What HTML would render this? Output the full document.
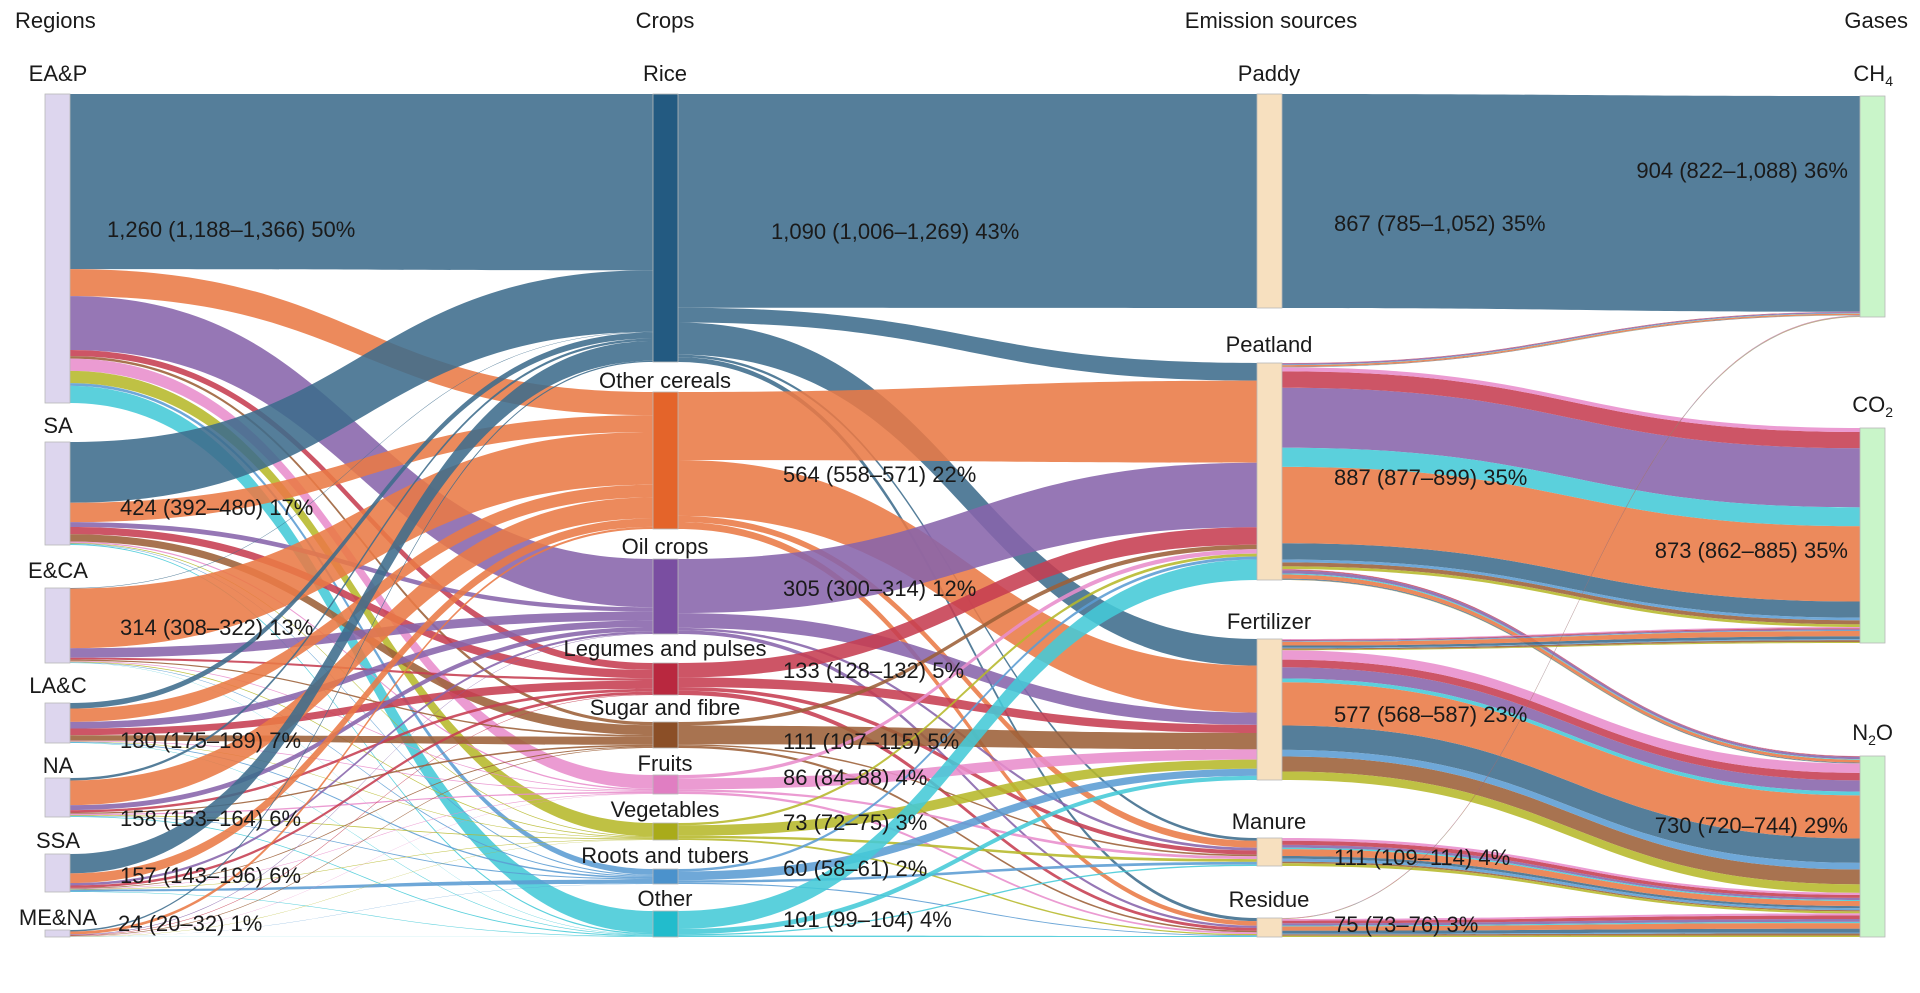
<!DOCTYPE html>
<html><head><meta charset="utf-8">
<style>
html,body{margin:0;padding:0;background:#fff;}
svg{display:block;}
text{font-family:"Liberation Sans",Arial,sans-serif;font-size:22px;fill:#1a1a1a;}
</style></head>
<body>
<svg id="s" width="1920" height="993" viewBox="0 0 1920 993" xmlns="http://www.w3.org/2000/svg">
<g id="links"></g>
<g id="nodes"></g>
<g id="labels">
<text x="15" y="28">Regions</text>
<text x="665" y="28" text-anchor="middle">Crops</text>
<text x="1271" y="28" text-anchor="middle">Emission sources</text>
<text x="1908" y="28" text-anchor="end">Gases</text>

<text x="58" y="81" text-anchor="middle">EA&amp;P</text>
<text x="58" y="433" text-anchor="middle">SA</text>
<text x="58" y="578" text-anchor="middle">E&amp;CA</text>
<text x="58" y="693" text-anchor="middle">LA&amp;C</text>
<text x="58" y="773" text-anchor="middle">NA</text>
<text x="58" y="848" text-anchor="middle">SSA</text>
<text x="58" y="925" text-anchor="middle">ME&amp;NA</text>

<text x="665" y="81" text-anchor="middle">Rice</text>
<text x="665" y="388" text-anchor="middle">Other cereals</text>
<text x="665" y="554" text-anchor="middle">Oil crops</text>
<text x="665" y="656" text-anchor="middle">Legumes and pulses</text>
<text x="665" y="715" text-anchor="middle">Sugar and fibre</text>
<text x="665" y="771" text-anchor="middle">Fruits</text>
<text x="665" y="817" text-anchor="middle">Vegetables</text>
<text x="665" y="863" text-anchor="middle">Roots and tubers</text>
<text x="665" y="906" text-anchor="middle">Other</text>

<text x="1269" y="81" text-anchor="middle">Paddy</text>
<text x="1269" y="352" text-anchor="middle">Peatland</text>
<text x="1269" y="629" text-anchor="middle">Fertilizer</text>
<text x="1269" y="829" text-anchor="middle">Manure</text>
<text x="1269" y="907" text-anchor="middle">Residue</text>

<text x="1893" y="81" text-anchor="end">CH<tspan font-size="14" dy="5">4</tspan></text>
<text x="1893" y="412" text-anchor="end">CO<tspan font-size="14" dy="5">2</tspan></text>
<text x="1893" y="740" text-anchor="end">N<tspan font-size="14" dy="5">2</tspan><tspan dy="-5">O</tspan></text>

<text x="107" y="237">1,260 (1,188–1,366) 50%</text>
<text x="120" y="515">424 (392–480) 17%</text>
<text x="120" y="635">314 (308–322) 13%</text>
<text x="120" y="748">180 (175–189) 7%</text>
<text x="120" y="826">158 (153–164) 6%</text>
<text x="120" y="883">157 (143–196) 6%</text>
<text x="118" y="931">24 (20–32) 1%</text>

<text x="771" y="239">1,090 (1,006–1,269) 43%</text>
<text x="783" y="482">564 (558–571) 22%</text>
<text x="783" y="596">305 (300–314) 12%</text>
<text x="783" y="678">133 (128–132) 5%</text>
<text x="783" y="749">111 (107–115) 5%</text>
<text x="783" y="785">86 (84–88) 4%</text>
<text x="783" y="830">73 (72–75) 3%</text>
<text x="783" y="876">60 (58–61) 2%</text>
<text x="783" y="927">101 (99–104) 4%</text>

<text x="1334" y="231">867 (785–1,052) 35%</text>
<text x="1334" y="485">887 (877–899) 35%</text>
<text x="1334" y="722">577 (568–587) 23%</text>
<text x="1334" y="865">111 (109–114) 4%</text>
<text x="1334" y="932">75 (73–76) 3%</text>

<text x="1848" y="178" text-anchor="end">904 (822–1,088) 36%</text>
<text x="1848" y="558" text-anchor="end">873 (862–885) 35%</text>
<text x="1848" y="833" text-anchor="end">730 (720–744) 29%</text>
</g>
</svg>
<script>
const LC=['#3e6c8c','#e97a45','#8864ab','#c63e51','#9c6038','#e88dcc','#b6b82a','#5b9cd3','#44cad7'];
const NC=['#235a81','#e4642a','#7a4ea1','#b9283f','#8b4f27','#e07ec2','#a9ab1a','#4b92cc','#22bccc'];
const R=[[94,403],[442,545],[588,663],[703,743],[778,817],[854,892],[930,937]];
const C=[[94,362],[392,529],[559,634],[663,695],[722,748],[775,794],[823,840],[869,884],[911,937]];
const S=[[94,308],[363,580],[639,780],[838,866],[918,937]];
const G=[[96,317],[428,643],[756,937]];
const cols=[{x:45,n:R,fill:()=>'#ddd6ee'},{x:653,n:C,fill:i=>NC[i]},{x:1257,n:S,fill:()=>'#f7e0bf'},{x:1860,n:G,fill:()=>'#c9f5c9'}];
const W=25;
const RC=[
[714,110,220,25,10,50,50,11,70],
[250,80,20,30,30,5,3,2,4],
[2,250,40,8,5,3,3,2,1],
[25,60,30,30,25,3,2,3,2],
[10,100,20,10,5,5,3,2,3],
[80,40,10,10,3,2,2,8,2],
[5,10,2,2,2,1,1,0.5,0.5]];
const CS=[
[867,60,130,10,20],
[0,280,230,25,29],
[0,220,60,10,15],
[0,60,40,15,18],
[0,15,80,6,10],
[0,15,50,10,11],
[0,10,45,10,8],
[0,10,35,10,5],
[0,70,20,5,6]];
const SG=[[1,0,0],[0.02,0.93,0.05],[0,0.08,0.92],[0,0,1],[0.05,0,0.95]];
const GO=[5,3,2,8,1,0,7,4,6];
let links=[];
for(let r=0;r<7;r++)for(let c=0;c<9;c++)if(RC[r][c]>0)links.push({L:0,s:r,t:c,v:RC[r][c],k:c,col:c});
for(let c=0;c<9;c++)for(let s=0;s<5;s++)if(CS[c][s]>0)links.push({L:1,s:c,t:s,v:CS[c][s],k:c,col:c});
for(let s=0;s<5;s++)for(let g=0;g<3;g++)for(let c=0;c<9;c++){const v=CS[c][s]*SG[s][g];if(v>0)links.push({L:2,s:s,t:g,v:v,k:GO.indexOf(c),col:c});}
for(let L=0;L<3;L++){
 const ls=links.filter(l=>l.L==L);
 const srcN=cols[L].n,tgtN=cols[L+1].n;
 srcN.forEach((nd,i)=>{const o=ls.filter(l=>l.s==i).sort((a,b)=>a.t-b.t||a.k-b.k);const tot=o.reduce((a,l)=>a+l.v,0);let y=nd[0];const sc=(nd[1]-nd[0])/tot;o.forEach(l=>{l.y0a=y;y+=l.v*sc;l.y0b=y;});});
 tgtN.forEach((nd,i)=>{const o=ls.filter(l=>l.t==i).sort((a,b)=>a.s-b.s||a.k-b.k);const tot=o.reduce((a,l)=>a+l.v,0);let y=nd[0];const sc=(nd[1]-nd[0])/tot;o.forEach(l=>{l.y1a=y;y+=l.v*sc;l.y1b=y;});});
}
let h='';
links.forEach(l=>{const x0=cols[l.L].x+W,x1=cols[l.L+1].x,xm=(x0+x1)/2;
 h+=`<path d="M${x0} ${l.y0a}C${xm} ${l.y0a} ${xm} ${l.y1a} ${x1} ${l.y1a}L${x1} ${l.y1b}C${xm} ${l.y1b} ${xm} ${l.y0b} ${x0} ${l.y0b}Z" fill="${LC[l.col]}" fill-opacity="0.88"/>`;});
document.getElementById('links').innerHTML=h;
let n='';
cols.forEach(c=>c.n.forEach((nd,i)=>{n+=`<rect x="${c.x}" y="${nd[0]}" width="${W}" height="${Math.max(nd[1]-nd[0],2)}" fill="${c.fill(i)}" stroke="#b8b8b8" stroke-width="0.8"/>`;}));
document.getElementById('nodes').innerHTML=n;
</script>
</body></html>
